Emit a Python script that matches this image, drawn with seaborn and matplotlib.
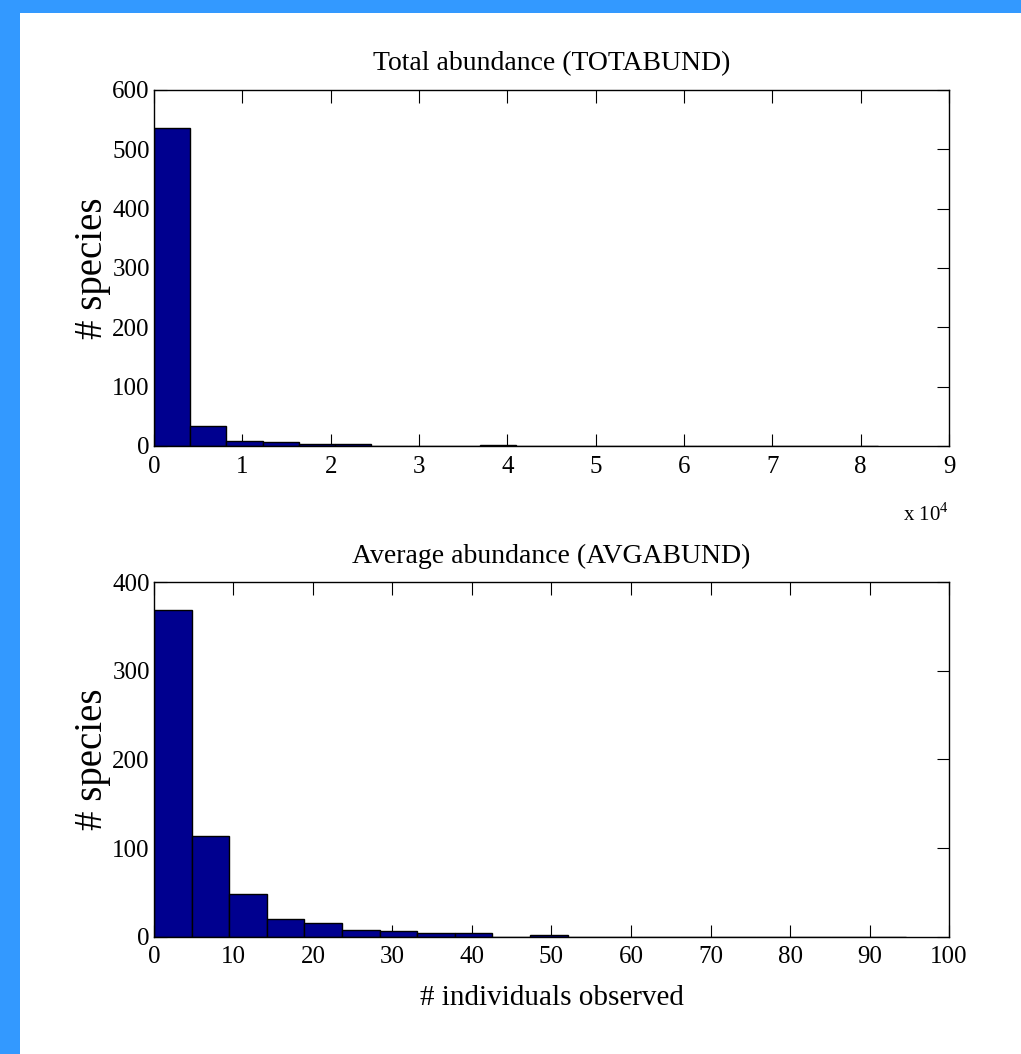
import numpy as np
import pandas as pd
import matplotlib
matplotlib.use("Agg")
import matplotlib.pyplot as plt
from matplotlib.patches import Rectangle
import seaborn as sns

# Histogram of total abundance per species (bin width 4100 individuals)
tot_bin_width = 4100
tot_counts = [535, 33, 9, 6, 3, 3, 0, 0, 0, 2, 0, 0, 0, 0, 0, 0, 0, 0, 0, 0]
tot_xticks = [0, 1, 2, 3, 4, 5, 6, 7, 8, 9]

# Histogram of average abundance per species (bin width 4.73)
avg_bin_width = 4.73
avg_counts = [368, 114, 48, 20, 16, 8, 6, 4, 4, 0, 2, 0, 0, 0, 0, 0, 0, 0, 0, 0]
avg_xticks = [0, 10, 20, 30, 40, 50, 60, 70, 80, 90, 100]

tot_yticks = [0, 100, 200, 300, 400, 500, 600]
avg_yticks = [0, 100, 200, 300, 400]

sns.set_style("ticks")
plt.rcParams["font.family"] = ["Liberation Serif", "DejaVu Serif"]
plt.rcParams["mathtext.fontset"] = "custom"
plt.rcParams["mathtext.rm"] = "Liberation Serif"
for key in ("text.color", "axes.labelcolor", "xtick.color", "ytick.color"):
    plt.rcParams[key] = "black"

BAR = "#00008F"
fig = plt.figure(figsize=(10.21, 10.54), dpi=100, facecolor="#3399FF")
fig.patches.append(Rectangle((20 / 1021, 0), 1, 1 - 13 / 1054, transform=fig.transFigure,
                             facecolor="white", edgecolor="none", zorder=-10))

ax1 = fig.add_axes([0.1508, 0.5769, 0.7787, 0.3378])
ax2 = fig.add_axes([0.1508, 0.1113, 0.7787, 0.3365])


def draw_hist(ax, counts, width):
    n = len(counts)
    centers = (np.arange(n) + 0.5) * width
    df = pd.DataFrame({"center": centers, "count": np.asarray(counts, dtype=float)})
    sns.histplot(data=df, x="center", weights="count", binwidth=width,
                 binrange=(0, n * width), ax=ax, color=BAR, alpha=1.0,
                 edgecolor="black", linewidth=1.0)


draw_hist(ax1, tot_counts, tot_bin_width)
draw_hist(ax2, avg_counts, avg_bin_width)

TICK_FS = 18
for ax in (ax1, ax2):
    ax.set_facecolor("white")
    for sp in ax.spines.values():
        sp.set_visible(True)
        sp.set_color("black")
        sp.set_linewidth(1.0)
    ax.tick_params(direction="in", length=9, width=0.8, top=True, right=True,
                   labelsize=TICK_FS, colors="black")
    ax.tick_params(axis="x", pad=7)
    ax.tick_params(axis="y", pad=3)
    ax.set_ylabel("# species", fontsize=28)
    ax.yaxis.set_label_coords(-0.054, 0.5)

ax1.set_xlim(0, 90000)
ax1.set_ylim(0, 600)
ax1.set_xticks([t * 10000 for t in tot_xticks])
ax1.set_xticklabels([str(t) for t in tot_xticks])
ax1.set_yticks(tot_yticks)
ax1.set_xlabel("")
ax1.set_title("Total abundance (TOTABUND)", fontsize=20, pad=14)
fig.text(0.929, 0.5057, r"x 10$^{4}$", ha="right", va="baseline", fontsize=15)

ax2.set_xlim(0, 100)
ax2.set_ylim(0, 400)
ax2.set_xticks(avg_xticks)
ax2.set_yticks(avg_yticks)
ax2.set_xlabel("# individuals observed", fontsize=21, labelpad=12)
ax2.set_title("Average abundance (AVGABUND)", fontsize=20, pad=14)

fig.savefig("out.png", dpi=100, facecolor=fig.get_facecolor())
